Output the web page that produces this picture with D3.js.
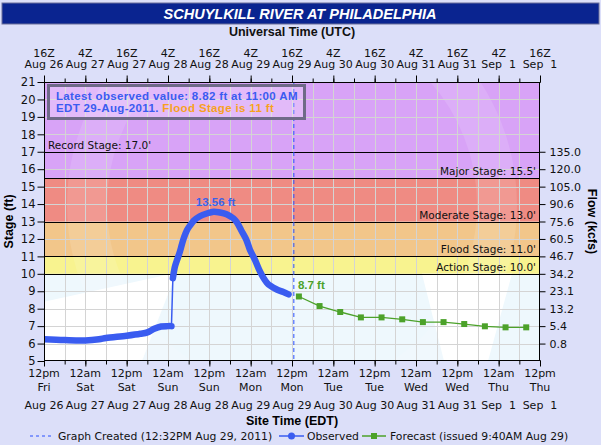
<!DOCTYPE html>
<html><head><meta charset="utf-8">
<script src="https://cdn.jsdelivr.net/npm/d3@7"></script>
<style>
body{margin:0;background:#dcdff9;}
svg{display:block;font-family:"DejaVu Sans",sans-serif;}
text{white-space:pre;}
</style></head><body><svg id="c" width="601" height="445"></svg>
<script>
// ---------- data (times are EDT clock times) ----------
const obsTimes = [
 "2011-08-26 12:00","2011-08-26 18:00","2011-08-27 00:00","2011-08-27 04:00","2011-08-27 06:00",
 "2011-08-27 12:00","2011-08-27 16:00","2011-08-27 18:00","2011-08-27 20:00","2011-08-27 22:00",
 "2011-08-28 00:00","2011-08-28 01:00",
 "2011-08-28 01:25","2011-08-28 01:30","2011-08-28 02:00","2011-08-28 02:30","2011-08-28 03:00",
 "2011-08-28 03:30","2011-08-28 04:00","2011-08-28 04:30","2011-08-28 05:30","2011-08-28 06:30",
 "2011-08-28 07:30","2011-08-28 09:15","2011-08-28 11:15","2011-08-28 13:15","2011-08-28 15:00",
 "2011-08-28 17:00","2011-08-28 19:00","2011-08-28 20:00","2011-08-28 21:15","2011-08-28 22:45",
 "2011-08-28 23:45","2011-08-29 01:15","2011-08-29 02:40","2011-08-29 03:40","2011-08-29 04:40",
 "2011-08-29 05:40","2011-08-29 07:35","2011-08-29 09:30","2011-08-29 11:00"];
const obsStage = [
 6.25,6.20,6.18,6.25,6.32,
 6.45,6.56,6.64,6.85,6.98,
 7.00,7.00,
 9.75,9.86,10.40,10.72,11.00,
 11.30,11.66,12.00,12.50,12.80,
 13.05,13.30,13.46,13.56,13.52,
 13.42,13.18,12.95,12.50,11.95,
 11.40,10.80,10.15,9.78,9.50,
 9.32,9.10,8.95,8.82];
const fcTimes = ["2011-08-29 14:00","2011-08-29 20:00","2011-08-30 02:00","2011-08-30 08:00",
 "2011-08-30 14:00","2011-08-30 20:00","2011-08-31 02:00","2011-08-31 08:00",
 "2011-08-31 14:00","2011-08-31 20:00","2011-09-01 02:00","2011-09-01 08:00"];
const fcStage = [8.70,8.15,7.81,7.50,7.50,7.39,7.23,7.23,7.12,6.99,6.93,6.93];

const stageTicks = [5,6,7,8,9,10,11,12,13,14,15,16,17,18,19,20,21];
const flowTickStages = [6,7,8,9,10,11,12,13,14,15,16,17];
const flowTickLabels = ["0.8","5.4","13.2","23.1","34.2","46.7","60.5","75.6","90.6","105.0","120.0","135.0"];

const thresholdNames = ["Record Stage","Major Stage","Moderate Stage","Flood Stage","Action Stage"];
const thresholdValues = [17.0,15.5,13.0,11.0,10.0];

const bandLows  = [5,10,11,13,15.5];
const bandHighs = [10,11,13,15.5,21];
const bandColors = ["#eef8fd","#f8f38f","#f2c68a","#ef8b83","#d8a3f7"];

const graphCreated = "2011-08-29 12:32";
const peakLabel = "13.56 ft";
const fcLabel = "8.7 ft";
const xStart = "2011-08-26 12:00", xEnd = "2011-09-01 12:00";
const utcOffsetHours = 4;

// ---------- setup ----------
const parse = d3.utcParse("%Y-%m-%d %H:%M");
const svg = d3.select("#c");
const L = 44, R = 540, T = 82, B = 361;
const x = d3.scaleUtc().domain([parse(xStart), parse(xEnd)]).range([L, R]);
const y = d3.scaleLinear().domain([5, 21]).range([B, T]);

const obs = obsTimes.map((t,i)=>({t:parse(t), v:obsStage[i]}));
const fc = fcTimes.map((t,i)=>({t:parse(t), v:fcStage[i]}));

// title bar
svg.append("rect").attr("x",2).attr("y",3).attr("width",597).attr("height",21)
  .attr("fill","#0a2490").attr("stroke","#6a6f99").attr("stroke-width",1);
svg.append("text").attr("x",300).attr("y",19).attr("text-anchor","middle")
  .attr("fill","#fff").attr("font-family","'Liberation Sans',Arial,sans-serif")
  .attr("font-weight","bold").attr("font-style","italic").attr("font-size",14.5)
  .text("SCHUYLKILL RIVER AT PHILADELPHIA");
svg.append("text").attr("x",292).attr("y",36).attr("text-anchor","middle")
  .attr("font-family","'Liberation Sans',Arial,sans-serif").attr("font-weight","bold").attr("font-size",12.5)
  .attr("fill","#111").text("Universal Time (UTC)");

// clip
svg.append("clipPath").attr("id","pc").append("rect").attr("x",L).attr("y",T).attr("width",R-L).attr("height",B-T);
const plot = svg.append("g").attr("clip-path","url(#pc)");

// bands
plot.selectAll("rect.band").data(bandLows).join("rect").attr("class","band")
  .attr("x",L).attr("width",R-L)
  .attr("y",(d,i)=>y(bandHighs[i])).attr("height",(d,i)=>y(d)-y(bandHighs[i]))
  .attr("fill",(d,i)=>bandColors[i]);

// faint watermark approximation (white wedges in the low band)
const y10 = y(10);
plot.append("path").attr("fill","#ffffff")
  .attr("d",`M${L},${y10+28}L${L+128},${y10}L${L+132},${y10}L${L+98},${B}L${L},${B}Z`);
plot.append("path").attr("fill","#ffffff")
  .attr("d",`M${R-118},${y10}L${R-28},${y10}L${R-52},${B}L${R-96},${B}Z`);
plot.append("circle").attr("cx",292).attr("cy",205).attr("r",205)
  .attr("fill","none").attr("stroke","#ffffff").attr("stroke-opacity",0.12).attr("stroke-width",40);

// gridlines
const minor = d3.utcHour.every(6).range(x.domain()[0], new Date(+x.domain()[1]+1));
const major = d3.utcHour.every(12).range(x.domain()[0], new Date(+x.domain()[1]+1));
plot.selectAll("line.vg").data(minor).join("line").attr("class","vg")
  .attr("x1",d=>Math.round(x(d))+0.5).attr("x2",d=>Math.round(x(d))+0.5).attr("y1",T).attr("y2",B)
  .attr("stroke","#d4d4d4").attr("stroke-width",1);
plot.selectAll("line.hg").data(stageTicks).join("line").attr("class","hg")
  .attr("y1",d=>Math.round(y(d))+0.5).attr("y2",d=>Math.round(y(d))+0.5).attr("x1",L).attr("x2",R)
  .attr("stroke","#d4d4d4").attr("stroke-width",1);

// threshold lines
plot.selectAll("line.th").data(thresholdValues).join("line").attr("class","th")
  .attr("x1",L).attr("x2",R).attr("y1",d=>Math.round(y(d))+0.5).attr("y2",d=>Math.round(y(d))+0.5)
  .attr("stroke","#000").attr("stroke-width",1);
svg.selectAll("text.thl").data(thresholdValues).join("text").attr("class","thl")
  .attr("x",(d,i)=>i===0?L+4:R-4).attr("y",d=>y(d)-3)
  .attr("text-anchor",(d,i)=>i===0?"start":"end").attr("font-size",10.5).attr("fill","#111")
  .text((d,i)=>`${thresholdNames[i]}: ${d.toFixed(1)}'`);

// graph created dashed line
plot.append("line").attr("x1",x(parse(graphCreated))).attr("x2",x(parse(graphCreated)))
  .attr("y1",T).attr("y2",B).attr("stroke","#2a50ff").attr("stroke-width",1).attr("stroke-dasharray","4,3");

// observed
const lineL = d3.line().x(d=>x(d.t)).y(d=>y(d.v));
const lineS = d3.line().x(d=>x(d.t)).y(d=>y(d.v)).curve(d3.curveCatmullRom.alpha(0.5));
plot.append("path").datum(obs).attr("d",lineL).attr("fill","none").attr("stroke","#3a5cf0").attr("stroke-width",1.5);
const segs = []; let cur = [obs[0]];
for (let i=1;i<obs.length;i++){ if (Math.abs(obs[i].v-obs[i-1].v)>1){segs.push(cur);cur=[];} cur.push(obs[i]); }
segs.push(cur);
segs.forEach(s=>plot.append("path").datum(s).attr("d",lineS).attr("fill","none")
  .attr("stroke","#3a5cf0").attr("stroke-width",6.5).attr("stroke-linecap","round").attr("stroke-linejoin","round"));
const pk = obs.reduce((a,b)=>b.v>a.v?b:a);
svg.append("text").attr("x",x(pk.t)+2).attr("y",y(pk.v)-6).attr("text-anchor","middle")
  .attr("font-family","'Liberation Sans',Arial,sans-serif").attr("font-weight","bold").attr("font-size",11.5)
  .attr("fill","#3a62e8").text(peakLabel);

// forecast
plot.append("path").datum(fc).attr("d",lineL).attr("fill","none").attr("stroke","#4ca22a").attr("stroke-width",1.3);
plot.selectAll("rect.fc").data(fc).join("rect").attr("class","fc")
  .attr("x",d=>x(d.t)-3).attr("y",d=>y(d.v)-3).attr("width",6).attr("height",6).attr("fill","#4ca22a");
svg.append("text").attr("x",x(fc[0].t)-1).attr("y",y(fc[0].v)-7)
  .attr("font-family","'Liberation Sans',Arial,sans-serif").attr("font-weight","bold").attr("font-size",11.5)
  .attr("fill","#4ca22a").text(fcLabel);

// info box
const box = svg.append("g");
box.append("rect").attr("x",48.5).attr("y",85.5).attr("width",256).attr("height",33)
  .attr("fill","#ffffff").attr("fill-opacity",0.25).attr("stroke","#6f6a88").attr("stroke-width",3);
const bt = box.append("text").attr("font-family","'Liberation Sans',Arial,sans-serif").attr("font-weight","bold")
  .attr("font-size",11.5).attr("letter-spacing",0.35).attr("fill","#3a5cf0");
bt.append("tspan").attr("x",56).attr("y",99.5).text(`Latest observed value: ${obsStage[obsStage.length-1]} ft at 11:00 AM`);
bt.append("tspan").attr("x",56).attr("y",111.5).text("EDT 29-Aug-2011. ");
bt.append("tspan").attr("fill","#f7a11f").text(`Flood Stage is ${thresholdValues[3]} ft`);

// frame
svg.append("rect").attr("x",L+0.5).attr("y",T+0.5).attr("width",R-L-1).attr("height",B-T-1)
  .attr("fill","none").attr("stroke","#000").attr("stroke-width",1);

// left axis
const ga = svg.append("g").attr("transform",`translate(${L+0.5},0)`)
  .call(d3.axisLeft(y).tickValues(stageTicks).tickSize(7).tickPadding(2).tickFormat(d3.format("d")));
ga.select(".domain").remove();
ga.selectAll("text").attr("font-size",11.5).attr("font-family","'DejaVu Sans',sans-serif").attr("fill","#111");
svg.append("text").attr("transform",`translate(13,${(T+B)/2}) rotate(-90)`).attr("text-anchor","middle")
  .attr("font-family","'Liberation Sans',Arial,sans-serif").attr("font-weight","bold").attr("font-size",12.5)
  .text("Stage (ft)");

// right axis
const gr = svg.append("g").attr("transform",`translate(${R-0.5},0)`)
  .call(d3.axisRight(y).tickValues(flowTickStages).tickSize(6).tickPadding(4)
    .tickFormat((d,i)=>flowTickLabels[i]));
gr.select(".domain").remove();
gr.selectAll("text").attr("font-size",11).attr("font-family","'DejaVu Sans',sans-serif").attr("fill","#111");
svg.append("text").attr("transform",`translate(588,${(T+B)/2}) rotate(90)`).attr("text-anchor","middle")
  .attr("font-family","'Liberation Sans',Arial,sans-serif").attr("font-weight","bold").attr("font-size",12.5)
  .text("Flow (kcfs)");

// bottom axis
const gb = svg.append("g").attr("transform",`translate(0,${B-0.5})`);
gb.call(d3.axisBottom(x).tickValues(minor).tickSize(4).tickFormat(""));
gb.call(g=>g.select(".domain").remove());
const gbm = svg.append("g").attr("transform",`translate(0,${B-0.5})`)
  .call(d3.axisBottom(x).tickValues(major).tickSize(6).tickFormat(""));
gbm.select(".domain").remove();
const fH = d3.utcFormat("%-I%p"), fD = d3.utcFormat("%a"), fM = d3.utcFormat("%b %e");
const bl = svg.append("g").attr("font-size",11).attr("fill","#111").attr("text-anchor","middle");
bl.selectAll("text.h").data(major).join("text").attr("x",d=>x(d)).attr("y",377).text(d=>fH(d).toLowerCase());
bl.selectAll("text.d").data(major).join("text").attr("x",d=>x(d)).attr("y",390.5).text(d=>fD(d));
bl.selectAll("text.m").data(major).join("text").attr("x",d=>x(d)).attr("y",408.5).text(d=>fM(d));
svg.append("text").attr("x",292).attr("y",425).attr("text-anchor","middle")
  .attr("font-family","'Liberation Sans',Arial,sans-serif").attr("font-weight","bold").attr("font-size",12.5)
  .text("Site Time (EDT)");

// top axis
const gt = svg.append("g").attr("transform",`translate(0,${T+0.5})`);
gt.call(d3.axisTop(x).tickValues(minor).tickSize(4).tickFormat(""));
gt.select(".domain").remove();
const gtm = svg.append("g").attr("transform",`translate(0,${T+0.5})`)
  .call(d3.axisTop(x).tickValues(major).tickSize(7).tickFormat(""));
gtm.select(".domain").remove();
const toUtc = d=>new Date(+d + utcOffsetHours*3600e3);
const fZ = d3.utcFormat("%-HZ");
const tl = svg.append("g").attr("font-size",11).attr("fill","#111").attr("text-anchor","middle");
tl.selectAll("text.z").data(major).join("text").attr("x",d=>x(d)).attr("y",56.5).text(d=>fZ(toUtc(d)));
tl.selectAll("text.m").data(major).join("text").attr("x",d=>x(d)).attr("y",68).text(d=>fM(toUtc(d)));

// legend
const lg = svg.append("g").attr("font-size",10.8).attr("fill","#111");
const ly = 436;
lg.append("line").attr("x1",30).attr("x2",52).attr("y1",ly).attr("y2",ly).attr("stroke","#2a50ff").attr("stroke-dasharray","3,3");
lg.append("text").attr("x",58).attr("y",ly+4).text("Graph Created (12:32PM Aug 29, 2011)");
lg.append("line").attr("x1",279).attr("x2",304).attr("y1",ly).attr("y2",ly).attr("stroke","#3a5cf0").attr("stroke-width",1.5);
lg.append("circle").attr("cx",291.5).attr("cy",ly).attr("r",3.5).attr("fill","#3a5cf0");
lg.append("text").attr("x",307).attr("y",ly+4).text("Observed");
lg.append("line").attr("x1",362).attr("x2",386).attr("y1",ly).attr("y2",ly).attr("stroke","#4ca22a").attr("stroke-width",1.5);
lg.append("rect").attr("x",371).attr("y",ly-3).attr("width",6).attr("height",6).attr("fill","#4ca22a");
lg.append("text").attr("x",390).attr("y",ly+4).text("Forecast (issued 9:40AM Aug 29)");
</script></body></html>
